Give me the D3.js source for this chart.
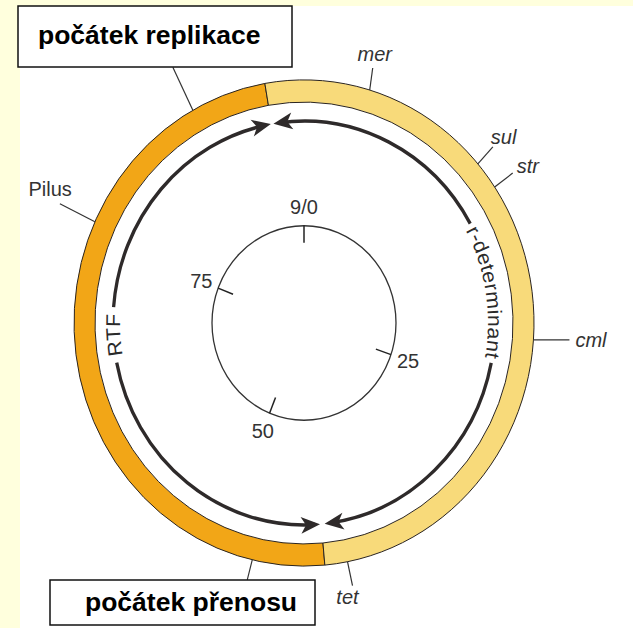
<!DOCTYPE html>
<html><head><meta charset="utf-8">
<script src="https://cdn.jsdelivr.net/npm/d3@7"></script>
<style>body{margin:0;background:#FFFFDD;} svg{display:block}</style>
</head><body>
<script>
// ---------- data ----------
const segmentNames = ["RTF", "r-determinant"];
const segmentStart = [174.8, -9.8];      // degrees clockwise from top
const segmentEnd   = [350.2, 174.8];
const arrowStart   = [176.7, -7.7];
const arrowEnd     = [348.5, 172.3];
const labelGapStart = [258.7, 60.5];
const labelGapEnd   = [274.5, 101.4];
const geneNames = ["mer", "sul", "str", "cml", "tet", "Pilus"];
const genePos   = [16.6, 49.1, 56.0, 94.0, 169.1, 294.6];
const originNames = ["počátek replikace", "počátek přenosu"];
const originPos   = [331.1, 193.0];
const tickValues = [0, 25, 50, 75];
const tickLabels = ["9/0", "25", "50", "75"];
const mapUnits  = [0, 25, 50, 75, 90];
const mapAngles = [0, 109, 202, 291, 360];

// ---------- layout ----------
const W = 633, H = 628, cx = 304, cy = 323, sy = 1.057;
const R_OUT = 230, R_IN = 209, R_ARROW = 191, R_MAP = 92;
const segColors = {"RTF": "#F2A617", "r-determinant": "#F8DA7A"};
const ink = "#2e2a2a";
const geneLayout = {
  mer:   {lx: 3,   ly: -22, tx: 2,  ty: -14, anchor: "middle"},
  sul:   {lx: 15,  ly: -17, tx: -2, ty: -10, anchor: "start"},
  str:   {lx: 18,  ly: -14, tx: 4,  ty: -7,  anchor: "start"},
  cml:   {lx: 36,  ly: 0,   tx: 6,  ty: 0,   anchor: "start"},
  tet:   {lx: 5,   ly: 24,  tx: -5, ty: 11,  anchor: "middle"},
  Pilus: {lx: -35, ly: -18, tx: 12, ty: -15, anchor: "end"}
};
const originLayout = [
  {lx: -20, ly: -43, box: [18, 6, 274, 61], text: [38, 44]},
  {lx: -5,  ly: 20,  box: [50, 580, 265, 45], text: [85, 611]}
];

const rad = d => d * Math.PI / 180;
const pt = (a, r) => [cx + r * Math.sin(rad(a)), cy - r * Math.cos(rad(a)) * sy];
const mapScale = d3.scaleLinear().domain(mapUnits).range(mapAngles);

const svg = d3.select("body").append("svg").attr("width", W).attr("height", H);
svg.append("rect").attr("width", W).attr("height", H).attr("fill", "#FFFFDD");
svg.append("rect").attr("x", 20).attr("y", 6).attr("width", W - 20).attr("height", H - 6).attr("fill", "#fff");

const defs = svg.append("defs");
defs.append("marker").attr("id", "head").attr("markerUnits", "userSpaceOnUse")
  .attr("viewBox", "-17 -9 24 18").attr("refX", 0).attr("refY", 0)
  .attr("markerWidth", 24).attr("markerHeight", 18).attr("orient", "auto-start-reverse")
  .append("path").attr("d", "M5,0 L-14,-8 L-9,0 L-14,8 Z").attr("fill", ink);

const g = svg.append("g").attr("transform", `translate(${cx},${cy}) scale(1,${sy})`);

// ring segments
const segs = segmentNames.map((n, i) => ({name: n, start: segmentStart[i], end: segmentEnd[i]}));
const arcGen = d3.arc().innerRadius(R_IN).outerRadius(R_OUT)
  .startAngle(d => rad(d.start)).endAngle(d => rad(d.end));
g.selectAll("path.seg").data(segs).join("path").attr("class", "seg")
  .attr("d", arcGen).attr("fill", d => segColors[d.name])
  .attr("stroke", "#2a2420").attr("stroke-width", 1).attr("vector-effect", "non-scaling-stroke");

// arrows
const arcPath = (a0, a1, r) => { const p = d3.path(); p.arc(0, 0, r, rad(a0) - Math.PI / 2, rad(a1) - Math.PI / 2, false); return p.toString(); };
segmentNames.forEach((n, i) => {
  g.append("path").attr("d", arcPath(arrowStart[i], labelGapStart[i], R_ARROW))
    .attr("fill", "none").attr("stroke", ink).attr("stroke-width", 3.3).attr("marker-start", "url(#head)");
  g.append("path").attr("d", arcPath(labelGapEnd[i], arrowEnd[i], R_ARROW))
    .attr("fill", "none").attr("stroke", ink).attr("stroke-width", 3.3).attr("marker-end", "url(#head)");
  const mid = (labelGapStart[i] + labelGapEnd[i]) / 2;
  defs.append("path").attr("id", "tp" + i).attr("d", arcPath(mid - 40, mid + 40, R_ARROW - 7));
  g.append("text").attr("font-family", "Liberation Sans, Arial, sans-serif").attr("font-size", 20)
    .attr("letter-spacing", i === 1 ? 0.4 : 0.3).attr("fill", "#2a2a2a")
    .append("textPath").attr("href", "#tp" + i).attr("startOffset", "50%").attr("text-anchor", "middle")
    .text(n);
});

// inner map circle
g.append("circle").attr("r", R_MAP).attr("fill", "none").attr("stroke", "#333")
  .attr("stroke-width", 1.3).attr("vector-effect", "non-scaling-stroke");
g.selectAll("line.tick").data(tickValues).join("line").attr("class", "tick")
  .attr("x1", d => R_MAP * Math.sin(rad(mapScale(d)))).attr("y1", d => -R_MAP * Math.cos(rad(mapScale(d))))
  .attr("x2", d => (R_MAP - 16) * Math.sin(rad(mapScale(d)))).attr("y2", d => -(R_MAP - 16) * Math.cos(rad(mapScale(d))))
  .attr("stroke", "#222").attr("stroke-width", 1.5).attr("vector-effect", "non-scaling-stroke");
svg.selectAll("text.tl").data(tickValues).join("text").attr("class", "tl")
  .attr("x", d => pt(mapScale(d), 110)[0]).attr("y", d => pt(mapScale(d), 110)[1])
  .attr("text-anchor", "middle").attr("dominant-baseline", "central")
  .attr("font-family", "Liberation Sans, Arial, sans-serif").attr("font-size", 20).attr("fill", "#333")
  .text((d, i) => tickLabels[i]);

// gene labels
geneNames.forEach((n, i) => {
  const L = geneLayout[n];
  const [x0, y0] = pt(genePos[i], R_OUT);
  const x1 = x0 + L.lx, y1 = y0 + L.ly;
  svg.append("line").attr("x1", x0).attr("y1", y0).attr("x2", x1).attr("y2", y1)
    .attr("stroke", "#333").attr("stroke-width", 1.2);
  svg.append("text").attr("x", x1 + L.tx).attr("y", y1 + L.ty)
    .attr("text-anchor", L.anchor).attr("dominant-baseline", "central")
    .attr("font-family", "Liberation Sans, Arial, sans-serif").attr("font-size", 20)
    .attr("font-style", n === "Pilus" ? "normal" : "italic").attr("fill", "#333").text(n);
});

// origin boxes
originNames.forEach((n, i) => {
  const L = originLayout[i];
  const [x0, y0] = pt(originPos[i], R_OUT);
  svg.append("line").attr("x1", x0).attr("y1", y0).attr("x2", x0 + L.lx).attr("y2", y0 + L.ly)
    .attr("stroke", "#333").attr("stroke-width", 1.2);
  svg.append("rect").attr("x", L.box[0]).attr("y", L.box[1]).attr("width", L.box[2]).attr("height", L.box[3])
    .attr("fill", "#fff").attr("stroke", "#111").attr("stroke-width", 1.5);
  svg.append("text").attr("x", L.text[0]).attr("y", L.text[1])
    .attr("font-family", "Liberation Sans, Arial, sans-serif").attr("font-weight", "bold")
    .attr("font-size", 26.5).attr("fill", "#000").text(n);
});
</script>
</body></html>
